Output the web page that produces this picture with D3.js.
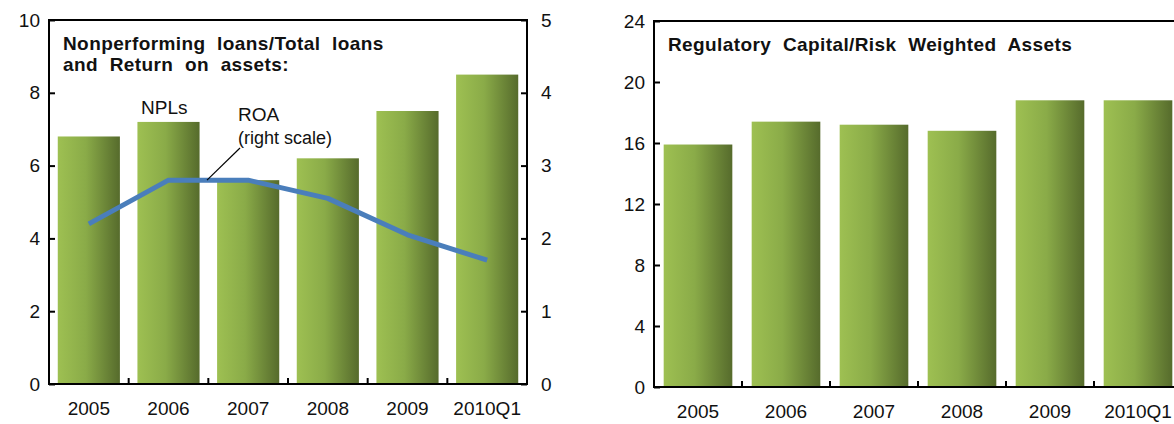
<!DOCTYPE html>
<html>
<head>
<meta charset="utf-8">
<script src="https://cdn.jsdelivr.net/npm/d3@7"></script>
<style>
  body { margin: 0; background: #fff; }
  svg { display: block; font-family: "Liberation Sans", Arial, sans-serif; }
  .tick text { font-size: 19px; fill: #111; }
  .domain { display: none; }
</style>
</head>
<body>
<svg id="chart" width="1174" height="424"></svg>
<script>
var years = ["2005", "2006", "2007", "2008", "2009", "2010Q1"];
var nplValues = [6.8, 7.2, 5.6, 6.2, 7.5, 8.5];
var roaValues = [2.2, 2.8, 2.8, 2.55, 2.05, 1.7];
var capValues = [15.9, 17.4, 17.2, 16.8, 18.8, 18.8];
var nplTicks = [0, 2, 4, 6, 8, 10];
var roaTicks = [0, 1, 2, 3, 4, 5];
var capTicks = [0, 4, 8, 12, 16, 20, 24];

var svg = d3.select("#chart");

// bar gradient, light on the left, dark on the right
var grad = svg.append("defs").append("linearGradient")
  .attr("id", "barGrad")
  .attr("x1", "0%").attr("x2", "100%").attr("y1", "0%").attr("y2", "0%");
grad.append("stop").attr("offset", "0%").attr("stop-color", "#9ec052");
grad.append("stop").attr("offset", "45%").attr("stop-color", "#8aab48");
grad.append("stop").attr("offset", "100%").attr("stop-color", "#566b2c");

function panel(opt) {
  var g = svg.append("g");
  var x = d3.scaleBand().domain(years)
    .range([opt.left, opt.left + opt.width])
    .paddingInner(0.22).paddingOuter(0.11);
  var y = d3.scaleLinear().domain(opt.domain).range([opt.bottom, opt.top]);

  g.selectAll("rect.bar")
    .data(opt.values)
    .enter().append("rect")
      .attr("class", "bar")
      .attr("x", function(d, i) { return x(years[i]); })
      .attr("width", x.bandwidth())
      .attr("y", function(d) { return y(d); })
      .attr("height", function(d) { return opt.bottom - y(d); })
      .style("fill", "url(#barGrad)");

  // frame
  g.append("rect")
    .attr("x", opt.left).attr("y", opt.top)
    .attr("width", opt.width).attr("height", opt.bottom - opt.top)
    .style("fill", "none").style("stroke", "#000").style("stroke-width", 2);

  g.append("g")
    .attr("transform", "translate(" + opt.left + ",0)")
    .call(d3.axisLeft(y).tickValues(opt.ticks).tickSize(-6).tickPadding(9))
    .selectAll("line").style("stroke", "#000").style("stroke-width", 2);

  // category ticks sit on band boundaries
  g.selectAll("line.cat")
    .data(years.slice(1))
    .enter().append("line")
      .attr("class", "cat")
      .attr("x1", function(d) { return x(d) - x.step() * x.paddingInner() / 2; })
      .attr("x2", function(d) { return x(d) - x.step() * x.paddingInner() / 2; })
      .attr("y1", opt.bottom).attr("y2", opt.bottom - 6)
      .style("stroke", "#000").style("stroke-width", 2);

  g.append("g")
    .attr("transform", "translate(0," + opt.bottom + ")")
    .call(d3.axisBottom(x).tickSize(0).tickPadding(18));

  g.append("text")
    .attr("x", opt.left + 14).attr("y", opt.top + 30)
    .style("font-size", "19px").style("font-weight", "bold")
    .style("letter-spacing", "0.4px")
    .style("word-spacing", "6px").style("fill", "#111")
    .selectAll("tspan")
    .data(opt.title)
    .enter().append("tspan")
      .attr("x", opt.left + 14)
      .attr("dy", function(d, i) { return i === 0 ? 0 : 21; })
      .text(function(d) { return d; });

  return { g: g, x: x, y: y };
}

var left = panel({
  left: 49, width: 478, top: 20, bottom: 384,
  domain: [0, 10], ticks: nplTicks, values: nplValues,
  title: ["Nonperforming loans/Total loans", "and Return on assets:"]
});

var right = panel({
  left: 654, width: 528, top: 21, bottom: 387,
  domain: [0, 24], ticks: capTicks, values: capValues,
  title: ["Regulatory Capital/Risk Weighted Assets"]
});

// ROA on the right scale of the left panel
var yRoa = d3.scaleLinear().domain([0, 5]).range([384, 20]);
left.g.append("g")
  .attr("transform", "translate(527,0)")
  .call(d3.axisRight(yRoa).tickValues(roaTicks).tickFormat(d3.format("d"))
    .tickSize(-6).tickPadding(14))
  .selectAll("line").style("stroke", "#000").style("stroke-width", 2);

var line = d3.line()
  .x(function(d, i) { return left.x(years[i]) + left.x.bandwidth() / 2; })
  .y(function(d) { return yRoa(d); });

left.g.append("path")
  .datum(roaValues)
  .attr("d", line)
  .style("fill", "none")
  .style("stroke", "#4a7ebb")
  .style("stroke-width", 5)
  .style("stroke-linejoin", "round");

// labels
left.g.append("text")
  .attr("x", 141).attr("y", 114)
  .style("font-size", "19px").style("fill", "#111")
  .text("NPLs");
left.g.append("text")
  .attr("x", 238).attr("y", 121)
  .style("font-size", "19px").style("fill", "#111")
  .text("ROA");
left.g.append("text")
  .attr("x", 238).attr("y", 144)
  .style("font-size", "18px").style("fill", "#111")
  .text("(right scale)");
left.g.append("line")
  .attr("x1", 240).attr("y1", 148)
  .attr("x2", 207).attr("y2", yRoa(roaValues[1]))
  .style("stroke", "#000").style("stroke-width", 1.2);
</script>
</body>
</html>
